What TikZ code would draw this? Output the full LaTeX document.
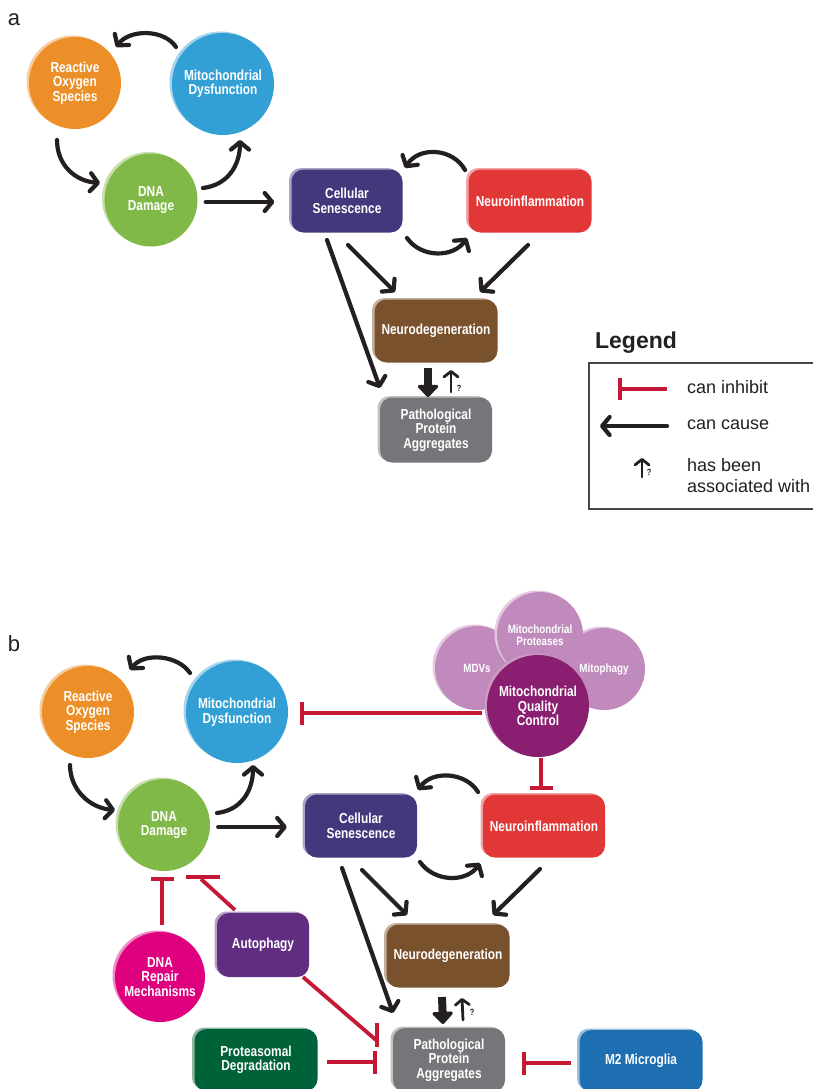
\documentclass[tikz,border=0pt]{standalone}
\usepackage{fontspec}
\setmainfont{Liberation Sans}
\newfontfamily\nf[FakeStretch=0.82]{Liberation Sans}
\usetikzlibrary{arrows.meta,calc}
\definecolor{cros}{RGB}{236,143,40}
\definecolor{cmito}{RGB}{50,160,212}
\definecolor{cdna}{RGB}{128,185,72}
\definecolor{ccs}{RGB}{66,57,124}
\definecolor{cni}{RGB}{226,55,55}
\definecolor{cnd}{RGB}{122,81,45}
\definecolor{cppa}{RGB}{118,118,122}
\definecolor{cauto}{RGB}{96,45,128}
\definecolor{crep}{RGB}{222,0,126}
\definecolor{cprot}{RGB}{0,98,56}
\definecolor{cmtwo}{RGB}{30,111,178}
\definecolor{cmqc}{RGB}{138,30,112}
\definecolor{cmql}{RGB}{192,138,188}
\definecolor{cinh}{RGB}{197,24,53}
\definecolor{carr}{RGB}{36,32,33}
\definecolor{cbox}{RGB}{70,70,70}
\begin{document}
\begin{tikzpicture}[x=1pt,y=1pt,
  every node/.style={inner sep=0pt},
  nt/.style={text=white, font=\nf\bfseries\fontsize{14.5}{14.5}\selectfont, align=center},
  smallnt/.style={font=\nf\bfseries\fontsize{12}{12.5}\selectfont},
  rim/.style={preaction={fill=#1!45!white, transform canvas={shift={(-2.5pt,1.5pt)}}}},
  circ/.style={circle, fill=#1, rim=#1, nt},
  rbox/.style={rectangle, rounded corners=12pt, fill=#1, rim=#1, nt},
  cause/.style={draw=carr, line width=4.2pt, line cap=round, line join=round,
    -{Straight Barb[length=7.5pt,width=18pt,round]}},
  bigcause/.style={draw=carr, line width=8pt, -{Triangle[length=13pt,width=24pt,round]}},
  assoc/.style={draw=carr, line width=2.8pt, line cap=round,
    -{Straight Barb[length=5.5pt,width=14pt,round]}},
  inh/.style={draw=cinh, line width=3.8pt, -{Bar[width=23pt]}},
  inhl/.style={draw=cinh, line width=3.8pt},
  qmark/.style={text=carr, font=\nf\bfseries\fontsize{9}{9}\selectfont},
  panel/.style={text=carr, font=\fontsize{22}{22}\selectfont},
  legtext/.style={text=carr, font=\fontsize{18}{21}\selectfont, anchor=west, align=left}
]
\useasboundingbox (0,0) rectangle (812,-1089);
\fill[white] (0,0) rectangle (812,-1089);

% ---------------- panel a ----------------
\node[panel] (la) at (14,-20) {a};
\node[circ=cros, minimum size=92pt] (rosA) at (75,-83) {Reactive\\Oxygen\\Species};
\node[circ=cmito, minimum size=102pt] (mitoA) at (223,-84) {Mitochondrial\\Dysfunction};
\node[circ=cdna, minimum size=93pt] (dnaA) at (151,-200) {DNA\\Damage};
\node[rbox=ccs, minimum width=111pt, minimum height=63pt] (csA) at (347,-201) {Cellular\\Senescence};
\node[rbox=cni, minimum width=123pt, minimum height=63pt] (niA) at (530,-201) {Neuroinflammation};
\node[rbox=cnd, minimum width=123pt, minimum height=63pt] (ndA) at (436,-331) {Neurodegeneration};
\node[rbox=cppa, minimum width=112pt, minimum height=65pt] (ppaA) at (436,-430) {Pathological\\Protein\\Aggregates};
\node[qmark] (qA) at (459,-388) {?};

\draw[cause] ($(mitoA)+(-47,37)$) .. controls +(-12,18) and +(14,18) .. ($(rosA)+(41,36)$);
\draw[cause] ($(rosA)+(-18,-57)$) .. controls +(0,-25) and +(-25,2) .. ($(dnaA)+(-51,17)$);
\draw[cause] ($(dnaA)+(52,12)$) .. controls +(25,3) and +(0,-25) .. ($(mitoA)+(17,-56)$);
\draw[cause] ($(dnaA.east)+(8,-2)$) -- ($(csA.west)+(-17,-1)$);
\draw[cause] ($(niA)+(-65,31)$) .. controls +(-12,22) and +(14,22) .. ($(csA)+(58,33)$);
\draw[cause] ($(csA)+(60,-37)$) .. controls +(14,-20) and +(-14,-20) .. ($(niA)+(-63,-37)$);
\draw[cause] ($(csA)+(1,-44)$) -- ($(ndA)+(-41,39)$);
\draw[cause] ($(niA)+(-2,-44)$) -- ($(ndA)+(44,39)$);
\draw[cause] ($(csA)+(-20,-39)$) -- ($(ppaA)+(-56,42)$);
\draw[bigcause] ($(ndA)+(-8,-37)$) -- ($(ppaA)+(-8,33)$);
\draw[assoc] ($(ppaA)+(15,38)$) -- ($(ndA)+(15,-39)$);

% ---------------- legend ----------------
\node[text=carr, font=\bfseries\fontsize{23}{23}\selectfont] (legT) at (636,-343) {Legend};
\node[draw=cbox, line width=1.5pt, minimum width=240pt, minimum height=146pt, anchor=north west] (legBox) at (588,-362) {};
\coordinate (li1s) at (667,-389);
\coordinate (li1e) at (618,-389);
\draw[inh, -{Bar[width=22pt]}] (li1s) -- (li1e);
\node[legtext] (lt1) at (687,-387) {can inhibit};
\coordinate (li2s) at (667,-426);
\coordinate (li2e) at (600,-426);
\draw[cause] (li2s) -- (li2e);
\node[legtext] (lt2) at (687,-425) {can cause};
\coordinate (li3s) at (642,-477);
\coordinate (li3e) at (642,-458);
\draw[assoc] (li3s) -- (li3e);
\node[qmark] (lq) at (649,-472) {?};
\node[legtext] (lt3) at (687,-476) {has been\\associated with};

% ---------------- panel b ----------------
\node[panel] (lb) at (14,-644) {b};
% mitochondrial quality control cluster
\node[circ=cmql, smallnt, minimum size=84pt] (mdv) at (477,-668) {MDVs};
\node[circ=cmql, smallnt, minimum size=82pt] (mitoph) at (604,-669) {Mitophagy};
\node[circ=cmql, smallnt, minimum size=86pt] (mprot) at (540,-635) {Mitochondrial\\Proteases};
\node[circ=cmqc, minimum size=102pt] (mqc) at (538,-706) {Mitochondrial\\Quality\\Control};

\node[circ=cros, minimum size=92pt] (rosB) at (88,-712) {Reactive\\Oxygen\\Species};
\node[circ=cmito, minimum size=102pt] (mitoB) at (237,-712) {Mitochondrial\\Dysfunction};
\node[circ=cdna, minimum size=92pt] (dnaB) at (164,-825) {DNA\\Damage};
\node[rbox=ccs, minimum width=112pt, minimum height=63pt] (csB) at (361,-826) {Cellular\\Senescence};
\node[rbox=cni, minimum width=122pt, minimum height=63pt] (niB) at (544,-826) {Neuroinflammation};
\node[rbox=cnd, minimum width=123pt, minimum height=63pt] (ndB) at (448,-956) {Neurodegeneration};
\node[rbox=cppa, minimum width=112pt, minimum height=64pt] (ppaB) at (449,-1060) {Pathological\\Protein\\Aggregates};
\node[rbox=cauto, minimum width=92pt, minimum height=64pt] (autoB) at (263,-945) {Autophagy};
\node[circ=crep, minimum size=90pt] (repB) at (160,-977) {DNA\\Repair\\Mechanisms};
\node[rbox=cprot, minimum width=123pt, minimum height=62pt] (protB) at (256,-1060) {Proteasomal\\Degradation};
\node[rbox=cmtwo, minimum width=123pt, minimum height=62pt] (m2B) at (641,-1061) {M2 Microglia};
\node[qmark] (qB) at (472,-1012) {?};

\draw[cause] ($(mitoB)+(-47,39)$) .. controls +(-12,18) and +(14,18) .. ($(rosB)+(42,42)$);
\draw[cause] ($(rosB)+(-18,-53)$) .. controls +(0,-25) and +(-25,2) .. ($(dnaB)+(-49,15)$);
\draw[cause] ($(dnaB)+(53,12)$) .. controls +(25,3) and +(0,-25) .. ($(mitoB)+(16,-53)$);
\draw[cause] ($(dnaB.east)+(8,-2)$) -- ($(csB.west)+(-18,-1)$);
\draw[cause] ($(niB)+(-66,34)$) .. controls +(-12,20) and +(14,20) .. ($(csB)+(57,36)$);
\draw[cause] ($(csB)+(59,-36)$) .. controls +(14,-20) and +(-14,-20) .. ($(niB)+(-64,-37)$);
\draw[cause] ($(csB)+(1,-44)$) -- ($(ndB)+(-41,41)$);
\draw[cause] ($(niB)+(-4,-43)$) -- ($(ndB)+(45,41)$);
\draw[cause] ($(csB)+(-19,-42)$) -- ($(ppaB)+(-56,47)$);
\draw[bigcause] ($(ndB)+(-6,-41)$) -- ($(ppaB)+(-6,36)$);
\draw[assoc] ($(ppaB)+(14,40)$) -- ($(ndB)+(14,-42)$);

\draw[inh] ($(mqc)+(-56,-7)$) -- ($(mitoB)+(63,-1)$);
\draw[inh] ($(mqc)+(3,-52)$) -- ($(niB)+(-3,36)$);
\draw[inh] ($(repB)+(2,52)$) -- ($(dnaB)+(-2,-52)$);
\draw[inhl] ($(autoB)+(-28,35)$) -- ($(dnaB)+(37,-54)$);
\draw[inhl] ($(dnaB)+(22,-52)$) -- ($(dnaB)+(56,-52)$);
\draw[inhl] ($(autoB)+(40,-32)$) -- ($(ppaB)+(-73,20)$);
\draw[inhl] ($(ppaB)+(-72,37)$) -- ($(ppaB)+(-72,13)$);
\draw[inh] ($(protB)+(71,-2)$) -- ($(ppaB)+(-72,-2)$);
\draw[inh] ($(m2B)+(-70,-2)$) -- ($(ppaB)+(73,-3)$);
\end{tikzpicture}
\end{document}
